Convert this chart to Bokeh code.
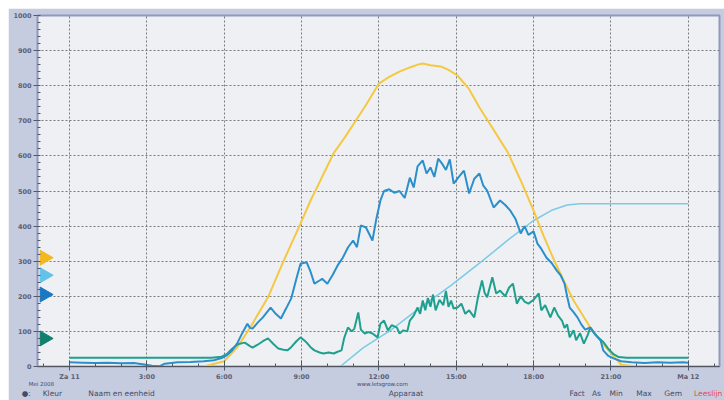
import math
from bokeh.plotting import figure
from bokeh.models import FixedTicker, LinearAxis, Spacer
from bokeh.layouts import column, row
from bokeh.embed import file_html
from bokeh.resources import INLINE

# ---------------- data ----------------
x_ticks = [0, 3, 6, 9, 12, 15, 18, 21, 24]
x_tick_labels = ["Za 11", "3:00", "6:00", "9:00", "12:00", "15:00", "18:00", "21:00", "Ma 12"]
y_ticks = [0, 100, 200, 300, 400, 500, 600, 700, 800, 900, 1000]

yellow_h = [0, 2, 4, 5.2, 5.47, 6.0, 6.5, 7.0, 7.7, 8.3, 8.96, 9.35, 9.54, 10.24, 10.7, 11.1, 11.5, 12.0,
            12.4, 12.8, 13.2, 13.5, 13.7, 14.0, 14.4, 14.7, 15.05, 15.5, 15.9, 16.4, 17.0, 17.5, 18.0,
            18.4, 18.8, 19.2, 19.55, 20.2, 20.9, 21.4, 22, 24]
yellow_v = [0, 0, 0, 0, 5, 15, 54, 110, 197, 300, 407, 473, 501, 607, 655, 700, 745, 806,
            825, 840, 852, 860, 863, 858, 855, 845, 829, 790, 738, 680, 610, 530, 444,
            370, 302, 240, 188, 111, 46, 5, 0, 0]

blue_h = [0, 0.5, 1, 1.5, 2, 2.5, 2.9, 3.2, 3.5, 3.7, 4.2, 4.7, 5.2, 5.6, 5.9, 6.1, 6.3, 6.5, 6.7, 6.9,
          7.0, 7.1, 7.3, 7.5, 7.8, 8.0, 8.2, 8.4, 8.6, 8.8, 8.96, 9.2, 9.35, 9.5, 9.7, 9.8, 10.0, 10.2,
          10.4, 10.6, 10.8, 11.0, 11.15, 11.3, 11.5, 11.75, 11.9, 12.06, 12.2, 12.4, 12.6, 12.8, 13.0,
          13.2, 13.35, 13.5, 13.7, 13.85, 14.0, 14.15, 14.3, 14.45, 14.6, 14.75, 14.9, 15.1, 15.3,
          15.5, 15.7, 15.9, 16.05, 16.2, 16.45, 16.7, 16.9, 17.1, 17.3, 17.5, 17.65, 17.8, 18.0,
          18.15, 18.3, 18.5, 18.7, 18.9, 19.05, 19.2, 19.3, 19.4, 19.55, 19.7, 19.85, 20.0, 20.2,
          20.4, 20.6, 20.7, 20.9, 21.1, 21.4, 21.8, 22.3, 22.8, 23.3, 23.8, 24.0]
blue_v = [12, 11, 10, 11, 9, 10, 6, 2, 1, 8, 12, 13, 15, 18, 24, 32, 45, 65, 95, 122,
          110, 108, 125, 140, 168, 150, 137, 165, 194, 250, 293, 297, 270, 236, 245, 250, 236, 260,
          288, 310, 339, 359, 340, 402, 396, 359, 420, 473, 500, 505, 495, 500, 480,
          538, 510, 570, 587, 550, 567, 540, 592, 578, 560, 590, 521, 540, 558,
          493, 535, 550, 515, 501, 453, 473, 460, 444, 420, 379, 400, 375, 385,
          350, 335, 310, 295, 273, 260, 236, 200, 168, 155, 140, 120, 105, 111,
          90, 74, 46, 30, 23, 15, 12, 10, 12, 11, 12, 11]

green_h = [0, 5.5, 5.9, 6.1, 6.3, 6.5, 6.6, 6.8, 7.0, 7.1, 7.3, 7.5, 7.7, 7.9, 8.1, 8.3, 8.45, 8.6, 8.8,
           8.96, 9.1, 9.2, 9.35, 9.5, 9.7, 9.85, 10.05, 10.25, 10.4, 10.55, 10.65, 10.8, 10.95, 11.05,
           11.2, 11.3, 11.45, 11.6, 11.75, 11.95, 12.06, 12.2, 12.35, 12.5, 12.7, 12.8, 12.95, 13.1,
           13.2, 13.35, 13.5, 13.6, 13.7, 13.8, 13.9, 14.0, 14.1, 14.2, 14.35, 14.5, 14.6, 14.7, 14.8,
           14.9, 15.05, 15.2, 15.35, 15.5, 15.7, 15.85, 16.0, 16.1, 16.2, 16.4, 16.55, 16.7, 16.9,
           17.05, 17.2, 17.35, 17.5, 17.65, 17.8, 18.0, 18.2, 18.3, 18.45, 18.65, 18.8, 18.95, 19.1,
           19.2, 19.3, 19.4, 19.55, 19.65, 19.8, 19.95, 20.1, 20.2, 20.35, 20.5, 20.7, 20.9, 21.1,
           21.3, 21.6, 24]
green_v = [25, 25, 28, 35, 50, 62, 65, 68, 58, 54, 62, 72, 80, 65, 51, 48, 46, 55, 72,
           83, 75, 68, 55, 46, 40, 37, 40, 37, 42, 46, 80, 111, 100, 108,
           154, 105, 94, 98, 94, 83, 122, 131, 103, 118, 111, 94, 103, 100,
           131, 145, 168, 150, 188, 160, 195, 170, 205, 160, 190, 175, 215, 170, 188,
           165, 168, 179, 150, 160, 140, 200, 245, 210, 197, 254, 208, 216, 200,
           225, 236, 179, 200, 185, 179, 190, 208, 160, 175, 140, 168, 145, 131,
           110, 120, 83, 103, 75, 95, 65, 90, 111, 95, 83, 70, 50, 35,
           27, 25, 25]

lightblue_h = [10.5, 11.4, 12.45, 13.6, 14.8, 16.0, 17.0, 18.0, 18.7, 19.3, 19.8, 24.0]
lightblue_v = [0, 54, 103, 168, 231, 300, 360, 416, 445, 460, 464, 464]

marker_levels = [310, 260, 205, 80]
marker_colors = ["#f2b81e", "#62c2ea", "#1a78c2", "#12806e"]

# footer rows (positions along the time axis where each caption is centred)
footer1_pos = [-1.09, 12.14]
footer1_text = ["Mei 2008", "www.letsgrow.com"]
footer2_pos = [-1.07, 2.02, 13.05, 19.69, 20.44, 21.2, 22.28, 23.41]
footer2_text = ["\u25cf:\u00a0\u00a0\u00a0\u00a0\u00a0Kleur", "Naam en eenheid", "Apparaat",
                "Fact", "As", "Min", "Max", "Gem"]
footer3_pos = [24.77]
footer3_text = ["Leeslijn"]

# ---------------- figure ----------------
p = figure(width=716, height=392, x_range=(-1.24, 25.21), y_range=(0, 1000),
           output_backend="svg", toolbar_location=None,
           min_border_left=29, min_border_right=5, min_border_top=7, min_border_bottom=34)

p.background_fill_color = "#eef0f3"
p.border_fill_color = "#c6cce0"
p.outline_line_color = "#9098c0"
p.outline_line_width = 2

# axes
p.xaxis.ticker = FixedTicker(ticks=x_ticks, minor_ticks=list(range(-1, 26)))
p.xaxis.major_label_overrides = {t: l for t, l in zip(x_ticks, x_tick_labels)}
p.yaxis.ticker = FixedTicker(ticks=y_ticks, minor_ticks=list(range(0, 1001, 20)))

for ax in (p.xaxis, p.yaxis):
    ax.major_label_text_font = "DejaVu Sans"
    ax.major_label_text_font_size = "6.5px"
    ax.major_label_text_color = "#5a6072"
    ax.major_label_text_font_style = "bold"
    ax.major_tick_line_color = "#505868"
    ax.minor_tick_line_color = "#505868"

p.xaxis.axis_line_color = "#505560"
p.xaxis.major_tick_in = 6
p.xaxis.major_tick_out = 4
p.xaxis.minor_tick_in = 3
p.xaxis.minor_tick_out = 0
p.xaxis.major_label_standoff = 2

p.yaxis.axis_line_color = None
p.yaxis.major_tick_in = 0
p.yaxis.major_tick_out = 4
p.yaxis.minor_tick_in = 3
p.yaxis.minor_tick_out = 0
p.yaxis.major_label_standoff = 2

p.xgrid.ticker = FixedTicker(ticks=x_ticks)
p.ygrid.ticker = FixedTicker(ticks=y_ticks)
for g in (p.xgrid, p.ygrid):
    g.grid_line_color = "#6e6e6e"
    g.grid_line_dash = "2 2"
    g.grid_line_width = 1
    g.grid_line_alpha = 0.9


def caption_axis(pos, texts, size, color, standoff):
    ax = LinearAxis(ticker=FixedTicker(ticks=pos, minor_ticks=[]),
                    major_label_overrides={t: s for t, s in zip(pos, texts)})
    ax.axis_line_color = None
    ax.major_tick_line_color = None
    ax.minor_tick_line_color = None
    ax.major_tick_in = 0
    ax.major_tick_out = 0
    ax.minor_tick_in = 0
    ax.minor_tick_out = 0
    ax.major_label_standoff = standoff
    ax.major_label_text_font = "DejaVu Sans"
    ax.major_label_text_font_size = size
    ax.major_label_text_color = color
    p.add_layout(ax, "below")


caption_axis(footer1_pos, footer1_text, "5.5px", "#434b66", -3)
caption_axis(footer2_pos, footer2_text, "7.5px", "#434b66", -1)
caption_axis(footer3_pos, footer3_text, "7.5px", "#e84848", -12)

# series
p.line(lightblue_h, lightblue_v, line_color="#7ccae6", line_width=1.5)
p.line(yellow_h, yellow_v, line_color="#f5c842", line_width=2)
p.line(green_h, green_v, line_color="#1fa08e", line_width=2)
p.line(blue_h, blue_v, line_color="#2b8fcc", line_width=2)

# value markers on the left
p.scatter(x=[-0.97] * len(marker_levels), y=marker_levels, marker="triangle",
          angle=-math.pi / 2, size=15, fill_color=marker_colors, line_color=marker_colors)

layout = column(Spacer(height=8, width=724), row(Spacer(width=8, height=392), p))
open("out.html", "w").write(file_html(layout, INLINE))
